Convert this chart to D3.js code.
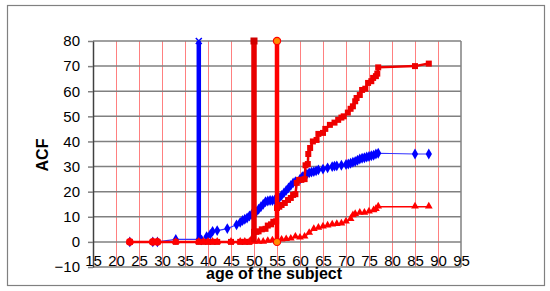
<!DOCTYPE html>
<html><head><meta charset="utf-8">
<script src="https://cdn.jsdelivr.net/npm/d3@7"></script>
<style>
html,body{margin:0;padding:0;background:#fff;}
svg{display:block;font-family:"Liberation Sans",Arial,sans-serif;}
</style></head>
<body>
<svg id="chart" width="550" height="291"></svg>
<script>
// ---- data ----
const xTicks = [15,20,25,30,35,40,45,50,55,60,65,70,75,80,85,90,95];
const yTicks = [-10,0,10,20,30,40,50,60,70,80];

const blueAges = [23,28,29,33,38,38.6,39.7,40.5,41,42,44.2,46.2,47,47.5,48,48.5,49,49.5,50,50.5,51,51.5,52,52.5,53,53.5,54,54.5,55,55.5,56,56.5,57,57.5,58,58.5,59,60,60.5,61,61.5,62,62.5,63,63.5,64,65,66,67,67.5,68,69,70,70.5,71,71.5,72,72.5,73,73.5,74,74.5,75,75.5,76,76.5,77,85,88];
const blueACF  = [0,0,0,1,1,0.8,2.1,3,4.2,4.5,5.3,6.8,7.8,8.5,9,9.5,10.3,11,11.5,12,13,14,15,16,16.3,16.5,16.5,16.7,17,17.5,18.5,19.5,20.5,21.5,22.5,23.5,24,25,26,26.5,27,27.5,27.8,28,28.3,28.7,29,29.5,30,30.2,30.3,30.5,30.8,31,31.3,31.7,32,32.5,33,33.3,33.5,33.8,34,34.3,34.5,35,35.3,35,35];

const squareAges = [23,28,29,33,38,39,40,41,42,45,47,48,49,50,50.5,51,51.7,52.5,53,53.7,54.2,54.8,55,55.5,56,56.7,57.4,58,58.5,59,59.3,59.8,60.3,61,61.2,61.7,61.8,62.2,62.8,63.6,64,65,65.5,66.5,67.5,68.3,69,69.5,70.4,71,71.5,72,72.3,73,73.5,74.2,74.8,75.5,75.9,76.5,76.8,77,85,88];
const squareACF  = [0,0,0,0,0,0,0,0,0,0,0,0,0,4,4,4.2,5,5.2,6.5,7,8,8.2,13.5,14,14.7,15.5,16.7,17.5,18.7,19,23.5,24.7,24.7,25,30.5,31,35,37.4,40,40.6,43,43.4,45,46.6,47.5,48.6,49.5,50,51.5,53,54,56,57.3,58.5,60.5,61,63.3,64,65.3,66,67,69.5,70,71];

const triAges = [23,28,29,33,38,39,40,41,42,45,47,48,49,50,51,52,53,54,55,56,57,58,59,60,61,62,63,64,65,66,67,68,69,70,71,71.5,72,73,74,75,76,76.5,77,85,88];
const triACF  = [0,0,0,0,0,0,0,0,0,0,0,0,0,0,0,0,0.3,0.5,0.5,0.8,1,1.2,2,1.6,2,3.5,5,5.5,6,6.4,6.8,7,7.2,8,9,10.5,11,11.5,11.5,12,12.5,13,14,14,14];

const circleAges = [23,28,29];
const circleACF  = [0,0,0];

const blueMarkAge = 38, squareMarkAge = 50, circleMarkAge = 55;
const markTop = 80, markBottom = 0;

const xLabel = "age of the subject";
const yLabel = "ACF";

// ---- layout ----
const svg = d3.select("#chart");
const x = d3.scaleLinear().domain([15,95]).range([93,461]);
const y = d3.scaleLinear().domain([-10,80]).range([267,41]);

// outer frame
svg.append("rect").attr("x",7.5).attr("y",5.5).attr("width",537).attr("height",280)
  .attr("fill","#fff").attr("stroke","#808080").attr("stroke-width",1.2);

// vertical red gridlines
svg.append("g").selectAll("line").data(xTicks.filter(d=>d>15 && d<95)).join("line")
  .attr("x1",d=>x(d)+0.5).attr("x2",d=>x(d)+0.5)
  .attr("y1",y(80)).attr("y2",y(-10))
  .attr("stroke","#ff8080").attr("stroke-width",1);

// horizontal gridlines
svg.append("g").selectAll("line").data(yTicks).join("line")
  .attr("x1",x(15)).attr("x2",x(95))
  .attr("y1",d=>y(d)).attr("y2",d=>y(d))
  .attr("stroke","#808080").attr("stroke-width",1.5);

// right border
svg.append("line").attr("x1",x(95)).attr("x2",x(95)).attr("y1",y(80)).attr("y2",y(-10))
  .attr("stroke","#808080").attr("stroke-width",1.5);

// y axis
const yAxis = svg.append("g").attr("transform",`translate(${x(15)},0)`)
  .call(d3.axisLeft(y).tickValues(yTicks).tickSize(5).tickSizeOuter(0).tickPadding(8));
yAxis.select(".domain").attr("stroke","#404040").attr("stroke-width",1.5);
yAxis.selectAll(".tick line").attr("stroke","#808080").attr("stroke-width",1.5);
yAxis.selectAll("text").attr("font-size",15).attr("font-family","Liberation Sans, Arial, sans-serif").attr("fill","#000");

// x axis labels
const xAxis = svg.append("g").attr("transform",`translate(0,${y(0)})`)
  .call(d3.axisBottom(x).tickValues(xTicks).tickSize(0).tickPadding(13.5));
xAxis.select(".domain").remove();
xAxis.selectAll("text").attr("font-size",15).attr("font-family","Liberation Sans, Arial, sans-serif").attr("fill","#000");

// axis titles
svg.append("text").attr("x",274).attr("y",279).attr("text-anchor","middle")
  .attr("font-weight","bold").attr("font-size",16).text(xLabel);
svg.append("text").attr("transform",`translate(48,155) rotate(-90)`).attr("text-anchor","middle")
  .attr("font-weight","bold").attr("font-size",16).text(yLabel);

const line = d3.line().x(d=>x(d[0])).y(d=>y(d[1]));
const zip = (a,b)=>a.map((v,i)=>[v,b[i]]);

// blue series
const blue = zip(blueAges, blueACF);
svg.append("path").datum(blue).attr("d",line).attr("fill","none")
  .attr("stroke","#3333ff").attr("stroke-width",1.2);
svg.append("g").selectAll("path").data(blue).join("path")
  .attr("transform",d=>`translate(${x(d[0])},${y(d[1])})`)
  .attr("d",d3.symbol(d3.symbolDiamond,34))
  .attr("fill","#0000ff");

// blue vertical
svg.append("line").attr("x1",x(blueMarkAge)).attr("x2",x(blueMarkAge))
  .attr("y1",y(markBottom)).attr("y2",y(markTop))
  .attr("stroke","#0000ff").attr("stroke-width",4.5);
{
  const cx = x(blueMarkAge), cy = y(markTop);
  svg.append("path").attr("d",`M${cx-3},${cy-3}L${cx+3},${cy+3}M${cx+3},${cy-3}L${cx-3},${cy+3}`)
    .attr("stroke","#0000ff").attr("stroke-width",1.5);
}

// square series
const sq = zip(squareAges, squareACF);
svg.append("path").datum(sq).attr("d",line).attr("fill","none")
  .attr("stroke","#ee0000").attr("stroke-width",2.5);
svg.append("g").selectAll("rect").data(sq).join("rect")
  .attr("x",d=>x(d[0])-3).attr("y",d=>y(d[1])-3).attr("width",6).attr("height",6)
  .attr("fill","#ee0000");

// triangle series
const tri = zip(triAges, triACF);
svg.append("path").datum(tri).attr("d",line).attr("fill","none")
  .attr("stroke","#ff0000").attr("stroke-width",1.3);
svg.append("g").selectAll("path").data(tri).join("path")
  .attr("transform",d=>`translate(${x(d[0])},${y(d[1])-0.5})`)
  .attr("d",d3.symbol(d3.symbolTriangle,26))
  .attr("fill","#ff0000");

// red vertical at square mark
svg.append("line").attr("x1",x(squareMarkAge)).attr("x2",x(squareMarkAge))
  .attr("y1",y(markBottom)).attr("y2",y(markTop))
  .attr("stroke","#e80000").attr("stroke-width",5.5);
svg.append("rect").attr("x",x(squareMarkAge)-3.5).attr("y",y(markTop)-3.5)
  .attr("width",7).attr("height",7).attr("fill","#d00000");

// red vertical at circle mark
svg.append("line").attr("x1",x(circleMarkAge)).attr("x2",x(circleMarkAge))
  .attr("y1",y(markBottom)).attr("y2",y(markTop))
  .attr("stroke","#ff0000").attr("stroke-width",4.5);
svg.append("g").selectAll("circle").data([markBottom, markTop]).join("circle")
  .attr("cx",x(circleMarkAge)).attr("cy",d=>y(d)).attr("r",3.6)
  .attr("fill","#ff8c00").attr("stroke","#ff0000").attr("stroke-width",1.2);

// circle series
const circ = zip(circleAges, circleACF);
svg.append("g").selectAll("circle").data(circ).join("circle")
  .attr("cx",d=>x(d[0])).attr("cy",d=>y(d[1])).attr("r",3.5)
  .attr("fill","#ff0000").attr("stroke","#ff0000").attr("stroke-width",0.8);
</script>
</body></html>
